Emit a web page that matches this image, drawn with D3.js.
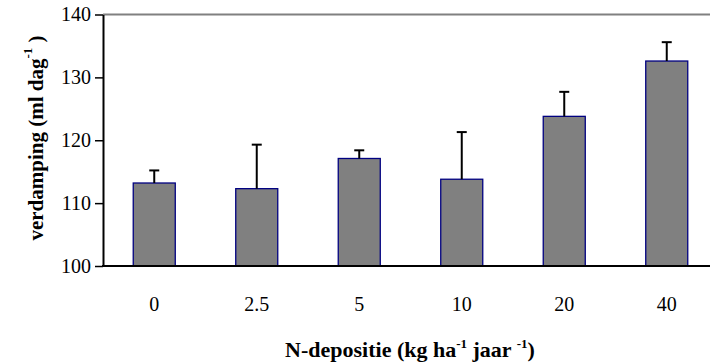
<!DOCTYPE html>
<html>
<head>
<meta charset="utf-8">
<script src="https://cdn.jsdelivr.net/npm/d3@7"></script>
<style>
  body { margin: 0; background: #fff; }
</style>
</head>
<body>
<svg id="chart" width="710" height="363"></svg>
<script>
// gegevens
const categories = ['0', '2.5', '5', '10', '20', '40'];
const means = [113.2, 112.3, 117.1, 113.8, 123.8, 132.6];
const errTops = [115.2, 119.3, 118.4, 121.3, 127.7, 135.6];
const yTicks = [100, 110, 120, 130, 140];

const FONT = '"Liberation Serif"';
const svg = d3.select('#chart');
const mLeft = 103, mRight = 718, mTop = 14.5, mBottom = 266;

const x = d3.scaleBand().domain(categories).range([mLeft, mRight]).paddingInner(0.59).paddingOuter(0.295);
const y = d3.scaleLinear().domain([100, 140]).range([mBottom, mTop]);

// bovenrand
svg.append('line').attr('x1', mLeft).attr('x2', 710).attr('y1', mTop).attr('y2', mTop)
  .attr('stroke', '#808080').attr('stroke-width', 2);

// balken
svg.selectAll('.bar').data(means).enter().append('rect')
  .attr('x', (d, i) => x(categories[i]))
  .attr('y', d => y(d))
  .attr('width', x.bandwidth())
  .attr('height', d => y(100) - y(d))
  .attr('fill', '#808080').attr('stroke', '#000080').attr('stroke-width', 1.3);

// foutbalken
const eb = svg.append('g').attr('stroke', '#000').attr('stroke-width', 2);
errTops.forEach((e, i) => {
  const cx = x(categories[i]) + x.bandwidth() / 2;
  eb.append('line').attr('x1', cx).attr('x2', cx).attr('y1', y(means[i])).attr('y2', y(e));
  eb.append('line').attr('x1', cx - 5).attr('x2', cx + 5).attr('y1', y(e)).attr('y2', y(e));
});

// y-as
const ya = svg.append('g').attr('transform', `translate(${mLeft},0)`)
  .call(d3.axisLeft(y).tickValues(yTicks).tickSize(8).tickSizeOuter(0).tickPadding(4));
ya.select('.domain').attr('stroke', '#000').attr('stroke-width', 2);
ya.selectAll('.tick line').attr('stroke', '#000').attr('stroke-width', 1.5);
ya.selectAll('.tick text').attr('fill', '#000').attr('font-family', FONT).attr('font-size', 20);

// x-as
svg.append('line').attr('x1', mLeft - 1).attr('x2', 710).attr('y1', mBottom).attr('y2', mBottom)
  .attr('stroke', '#000').attr('stroke-width', 2);
svg.selectAll('.xlab').data(categories).enter().append('text')
  .attr('x', d => x(d) + x.bandwidth() / 2).attr('y', 311)
  .attr('text-anchor', 'middle').attr('font-family', FONT).attr('font-size', 20).text(d => d);

// astitels
const yt = svg.append('text').attr('transform', 'translate(43,138) rotate(-90)')
  .attr('text-anchor', 'middle').attr('font-family', FONT).attr('font-size', 21).attr('font-weight', 'bold');
yt.append('tspan').text('verdamping (ml dag');
yt.append('tspan').attr('font-size', 13).attr('baseline-shift', '85%').text('-1');
yt.append('tspan').text(' )');

const xt = svg.append('text').attr('x', 410).attr('y', 357)
  .attr('text-anchor', 'middle').attr('font-family', FONT).attr('font-size', 22).attr('font-weight', 'bold');
xt.append('tspan').text('N-depositie (kg ha');
xt.append('tspan').attr('font-size', 13).attr('baseline-shift', '70%').text('-1');
xt.append('tspan').text(' jaar ');
xt.append('tspan').attr('font-size', 13).attr('baseline-shift', '70%').text('-1');
xt.append('tspan').text(')');
</script>
</body>
</html>
